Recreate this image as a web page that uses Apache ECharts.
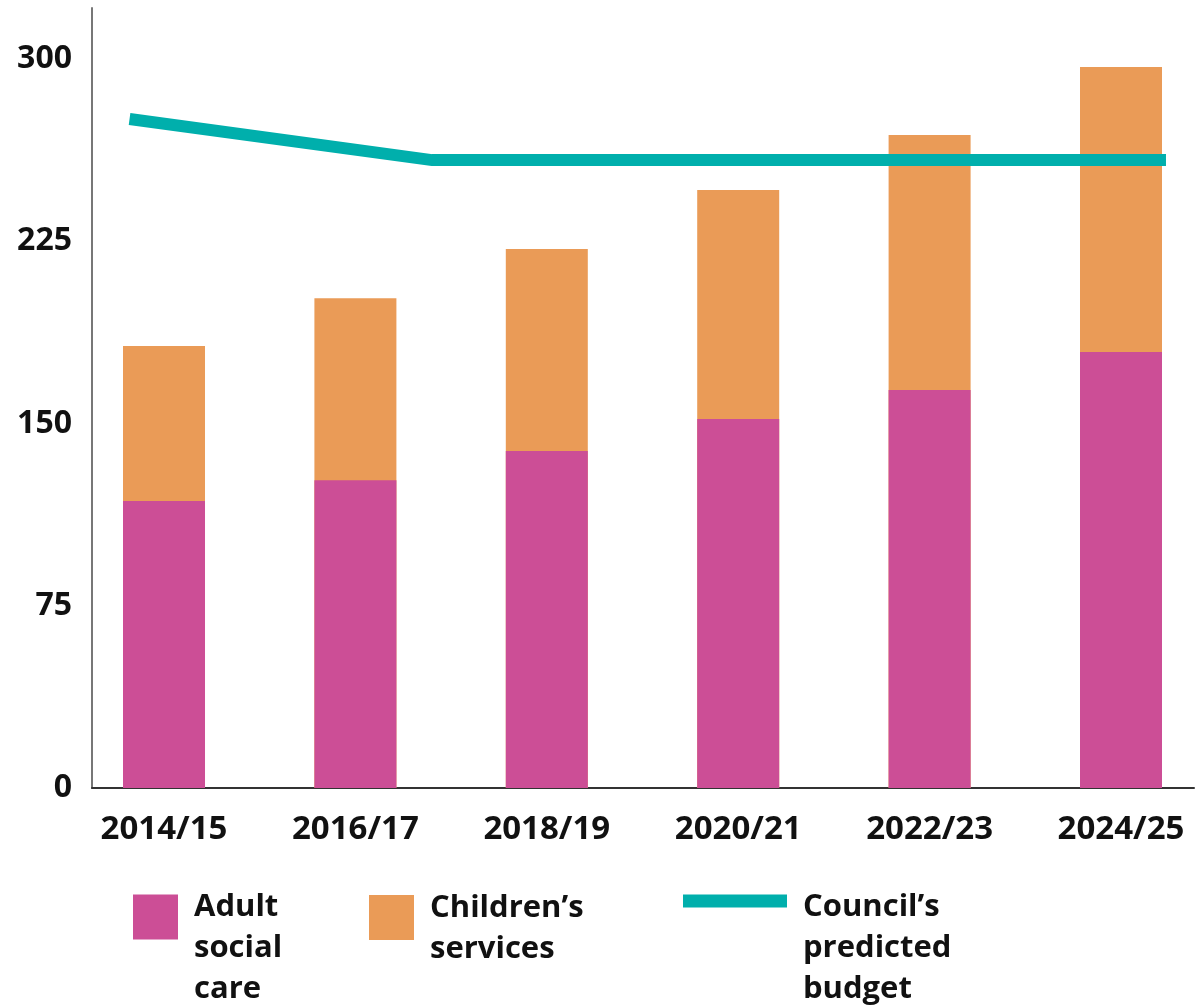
<!DOCTYPE html>
<html>
<head>
<meta charset="utf-8">
<script src="https://cdn.jsdelivr.net/npm/echarts@6/dist/echarts.min.js"></script>
<style>html,body{margin:0;padding:0;background:#fff}#chart{width:1204px;height:1008px}</style>
</head>
<body>
<div id="chart"></div>
<script>
// ---- data ----
const categories = ['2014/15', '2016/17', '2018/19', '2020/21', '2022/23', '2024/25'];
const adultSocialCare = [118.1, 126.7, 138.7, 151.9, 163.8, 179.4];
const childrensServices = [63.8, 74.9, 83.1, 94.2, 104.9, 117.3];
// council budget line: x positions in category-index units, values in £m
const budgetX = [-0.18, 1.40, 5.235];
const budgetValues = [275.3, 258.4, 258.4];
const yTicks = [0, 75, 150, 225, 300];

const seriesNames = ['Adult social care', 'Children\u2019s services', 'Council\u2019s predicted budget'];
const legendLines = [['Adult', 'social', 'care'], ['Children\u2019s', 'services'], ['Council\u2019s', 'predicted', 'budget']];

const FONT = '"Open Sans", "DejaVu Sans", sans-serif';
const C_ADULT = '#cc4e96';
const C_CHILD = '#ea9b57';
const C_LINE = '#00afac';

// stacked top of each bar (adult + children)
const totals = adultSocialCare.map((v, i) => v + childrensServices[i]);

function legendFor(i, left, top, icon, spacer) {
  return {
    left: left, top: top, orient: 'horizontal', padding: 0,
    selectedMode: false,
    itemWidth: i === 2 ? 104 : 45, itemHeight: 45,
    data: [{ name: seriesNames[i], icon: icon }],
    formatter: () => '{s| }\n' + legendLines[i].map(t => '{t|' + t + '}').join('\n'),
    textStyle: {
      fontFamily: FONT, fontWeight: 'bold', fontSize: 31, color: '#111',
      padding: [0, 0, 0, 11],
      rich: {
        s: { height: spacer, lineHeight: spacer, fontSize: 10 },
        t: { fontFamily: FONT, fontWeight: 'bold', fontSize: 31, color: '#111', lineHeight: 41, height: 41 }
      }
    }
  };
}

const chart = echarts.init(document.getElementById('chart'), null, { renderer: 'canvas' });
chart.setOption({
  animation: false,
  backgroundColor: '#fff',
  grid: { left: 92, right: 10, top: 8, bottom: 220, containLabel: false },
  xAxis: {
    type: 'value',
    min: -0.3762, max: 5.3814,
    splitLine: { show: false },
    axisLine: { show: true, onZero: false, lineStyle: { color: '#333', width: 2 } },
    axisTick: { show: false },
    axisLabel: {
      customValues: categories.map((c, i) => i),
      formatter: v => categories[Math.round(v)] || '',
      fontFamily: FONT, fontWeight: 'bold', fontSize: 33, color: '#111', margin: 25
    }
  },
  yAxis: {
    type: 'value', min: 0, max: 321,
    splitLine: { show: false },
    axisLine: { show: true, onZero: false, lineStyle: { color: '#777', width: 2 } },
    axisTick: { show: false },
    axisLabel: {
      customValues: yTicks,
      fontFamily: FONT, fontWeight: 'bold', fontSize: 32, color: '#111', margin: 20
    }
  },
  legend: [
    legendFor(0, 133, 824, 'rect', 63),
    legendFor(1, 369, 865, 'rect', 23),
    legendFor(2, 683, 824, 'path://M0,0L104,0L104,13L0,13Z M0,45L0.01,45L0,45Z', 63)
  ],
  series: [
    {
      name: seriesNames[1], type: 'bar', barWidth: 82, barGap: '-100%', z: 2,
      itemStyle: { color: C_CHILD },
      data: totals.map((v, i) => [i, v])
    },
    {
      name: seriesNames[0], type: 'bar', barWidth: 82, barGap: '-100%', z: 3,
      itemStyle: { color: C_ADULT },
      data: adultSocialCare.map((v, i) => [i, v])
    },
    {
      name: seriesNames[2], type: 'line', clip: false, showSymbol: false, symbol: 'none',
      itemStyle: { color: C_LINE },
      lineStyle: { color: C_LINE, width: 12, cap: 'butt', join: 'miter' },
      z: 5,
      data: budgetX.map((x, i) => [x, budgetValues[i]])
    }
  ]
});
</script>
</body>
</html>
